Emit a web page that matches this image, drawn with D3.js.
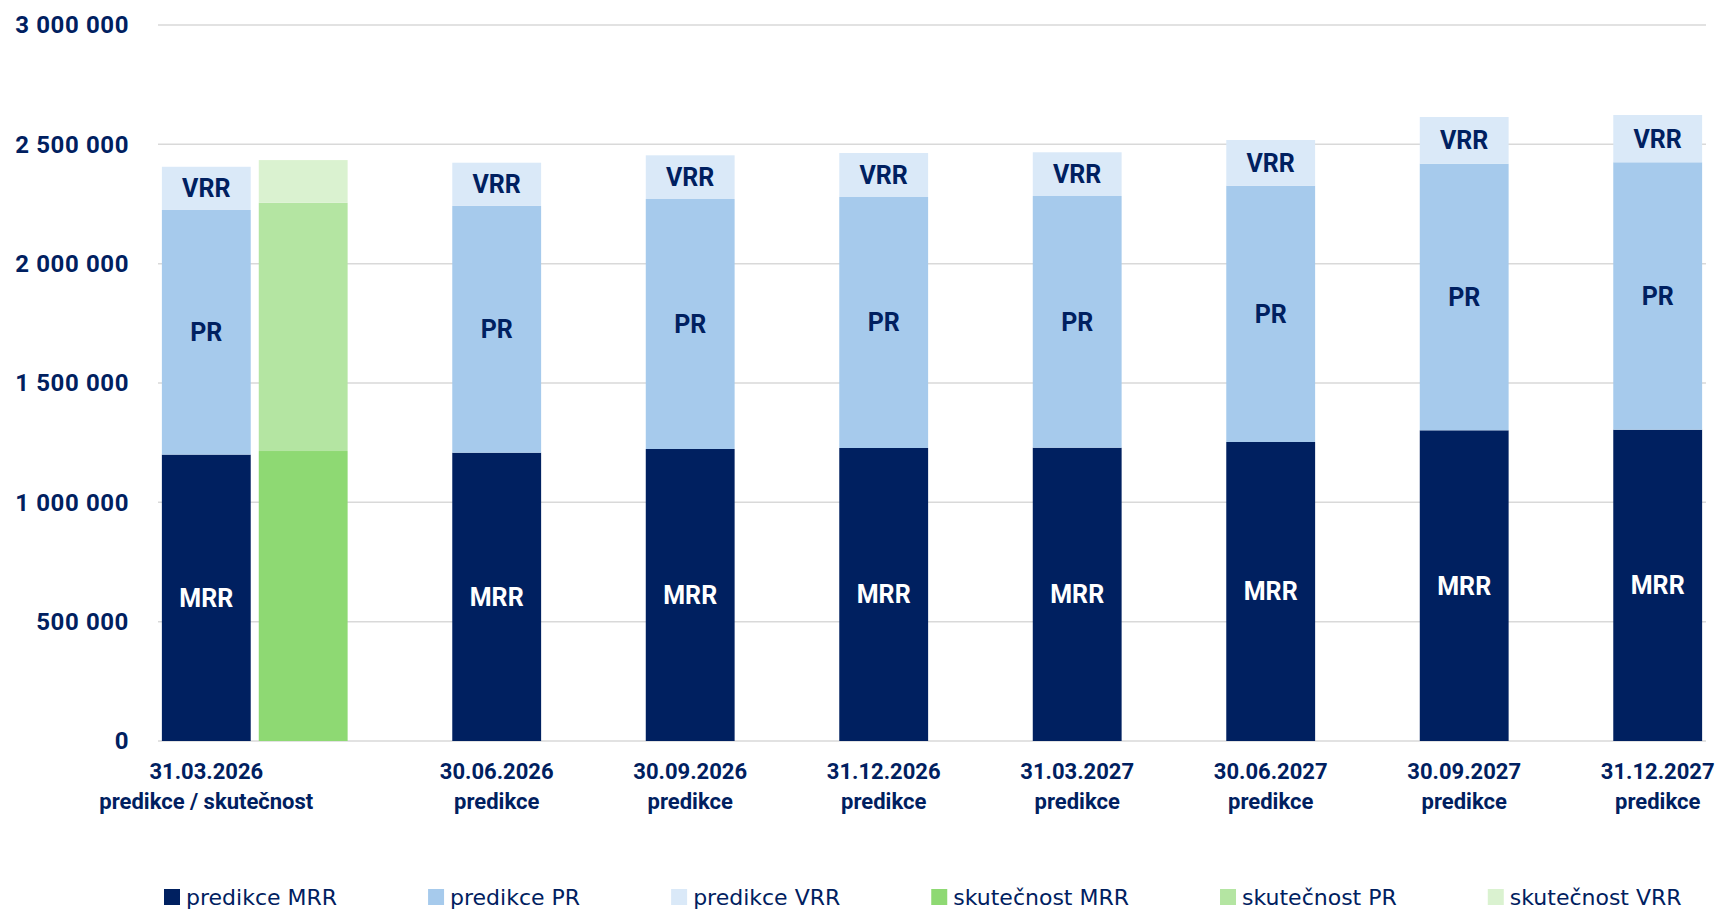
<!DOCTYPE html>
<html>
<head>
<meta charset="utf-8">
<script src="https://cdn.jsdelivr.net/npm/d3@7"></script>
<style>
body { margin:0; background:#fff; }
</style>
</head>
<body>
<div class="canvas"></div>
<script>
//------------------------data
const dates = ['31.03.2026', '30.06.2026', '30.09.2026', '31.12.2026', '31.03.2027', '30.06.2027', '30.09.2027', '31.12.2027'];
const subtitles = ['predikce / skutečnost', 'predikce', 'predikce', 'predikce', 'predikce', 'predikce', 'predikce', 'predikce'];

const predMRR = [1200000, 1208000, 1223500, 1227700, 1228900, 1252800, 1301800, 1304300];
const predPR  = [1025000, 1034000, 1047500, 1051700, 1054700, 1073900, 1117100, 1120500];
const predVRR = [181000, 181000, 183000, 184300, 183100, 191500, 195700, 198100];

// skutečnost only exists for the first date
const actMRR = [1215000];
const actPR  = [1040000];
const actVRR = [179000];

const yTicks = [0, 500000, 1000000, 1500000, 2000000, 2500000, 3000000];
const parts = ['MRR', 'PR', 'VRR'];

const legendNames = ['predikce MRR', 'predikce PR', 'predikce VRR', 'skutečnost MRR', 'skutečnost PR', 'skutečnost VRR'];

//------------------------colours
const predColor = d3.scaleOrdinal(parts, ['#002060', '#A6CAEC', '#DAE9F8']);
const actColor = d3.scaleOrdinal(parts, ['#8ED973', '#B4E5A2', '#DAF2D0']);
const labelColor = d3.scaleOrdinal(parts, ['#ffffff', '#002060', '#002060']);
const navy = '#002060';

//------------------------dims
const dims = { width:1716, height:910 };
const plot = { left:158, right:1706, top:25, bottom:741 };

const svg = d3.select('.canvas')
.append('svg')
.attr('width', dims.width)
.attr('height', dims.height)
.style('font-family', 'Roboto, "Open Sans", sans-serif');

//------------------------scales
const x = d3.scaleBand()
.domain(dates)
.range([plot.left, plot.right]);

// two slots inside each date: left and right
const slot = d3.scaleBand()
.domain(['left', 'right'])
.range([0, x.bandwidth()])
.paddingInner(0.083)
.paddingOuter(0.04);

const y = d3.scaleLinear()
.domain([0, 3000000])
.range([plot.bottom, plot.top]);

const fmt = d3.formatLocale({ decimal:',', thousands:'\u00a0', grouping:[3], currency:['', ''] }).format(',d');

//------------------------grid
svg.append('g')
.selectAll('line')
.data(yTicks)
.enter()
.append('line')
.attr('x1', plot.left)
.attr('x2', plot.right)
.attr('y1', d => y(d))
.attr('y2', d => y(d))
.attr('stroke', '#D9D9D9')
.attr('stroke-width', 1.5);

//------------------------y axis (labels only)
const yAxis = svg.append('g')
.attr('transform', `translate(${plot.left}, 0)`)
.call(d3.axisLeft(y).tickValues(yTicks).tickFormat(fmt).tickSize(0).tickPadding(29));

yAxis.select('.domain').remove();
yAxis.selectAll('text')
.attr('fill', navy)
.style('font-size', '24px')
.style('font-weight', 'bold')
.style('letter-spacing', '0.6px')
.style('font-family', 'Roboto, sans-serif');

//------------------------stack the data
const predRows = dates.map((d, i) => ({ date:d, MRR:predMRR[i], PR:predPR[i], VRR:predVRR[i], hasAct: i < actMRR.length }));
const actRows = actMRR.map((d, i) => ({ date:dates[i], MRR:actMRR[i], PR:actPR[i], VRR:actVRR[i] }));

const stack = d3.stack().keys(parts);
const predStack = stack(predRows);
const actStack = stack(actRows);

// predikce sits left when skutečnost exists next to it, otherwise in the right slot
const predX = row => x(row.date) + slot(row.hasAct ? 'left' : 'right');
const actX = row => x(row.date) + slot('right');

//------------------------bars predikce
const predGroups = svg.append('g')
.selectAll('g')
.data(predStack)
.enter()
.append('g')
.attr('fill', d => predColor(d.key));

predGroups.selectAll('rect')
.data(d => d)
.enter()
.append('rect')
.attr('x', d => predX(d.data))
.attr('y', d => y(d[1]))
.attr('width', slot.bandwidth())
.attr('height', d => y(d[0]) - y(d[1]));

//------------------------bars skutečnost
const actGroups = svg.append('g')
.selectAll('g')
.data(actStack)
.enter()
.append('g')
.attr('fill', d => actColor(d.key));

actGroups.selectAll('rect')
.data(d => d)
.enter()
.append('rect')
.attr('x', d => actX(d.data))
.attr('y', d => y(d[1]))
.attr('width', slot.bandwidth())
.attr('height', d => y(d[0]) - y(d[1]));

//------------------------segment labels (predikce only)
predStack.forEach(layer => {
    svg.append('g')
    .selectAll('text')
    .data(layer)
    .enter()
    .append('text')
    .attr('x', d => predX(d.data) + slot.bandwidth()/2)
    .attr('y', d => (y(d[0]) + y(d[1]))/2)
    .attr('dy', '0.36em')
    .attr('text-anchor', 'middle')
    .attr('fill', labelColor(layer.key))
    .style('font-size', '25px')
    .style('font-weight', 'bold')
    .text(layer.key);
});

//------------------------x labels
const xLabels = svg.append('g')
.selectAll('text')
.data(predRows)
.enter()
.append('text')
.attr('text-anchor', 'middle')
.attr('fill', navy)
.style('font-size', '22px')
.style('font-weight', 'bold');

xLabels.append('tspan')
.attr('x', d => predX(d) + slot.bandwidth()/2)
.attr('y', 779)
.text(d => d.date);

xLabels.append('tspan')
.attr('x', d => predX(d) + slot.bandwidth()/2)
.attr('y', 809)
.text((d, i) => subtitles[i]);

//------------------------legend
const legendColor = d3.scaleOrdinal(legendNames, [...parts.map(p => predColor(p)), ...parts.map(p => actColor(p))]);

const legend = svg.append('g')
.attr('transform', 'translate(0, 897)');

const items = legend.selectAll('g')
.data(legendNames)
.enter()
.append('g');

items.append('rect')
.attr('y', -8)
.attr('width', 16)
.attr('height', 16)
.attr('fill', d => legendColor(d));

items.append('text')
.attr('x', 22)
.attr('y', 0)
.attr('dy', '0.36em')
.attr('fill', navy)
.style('font-family', '"DejaVu Sans", sans-serif')
.style('font-size', '22px')
.text(d => d);

// lay items out one after another, like the excel legend
let cursor = 164;
items.each(function(){
    const g = d3.select(this);
    g.attr('transform', `translate(${cursor}, 0)`);
    cursor += 22 + g.select('text').node().getComputedTextLength() + 91;
});
</script>
</body>
</html>
